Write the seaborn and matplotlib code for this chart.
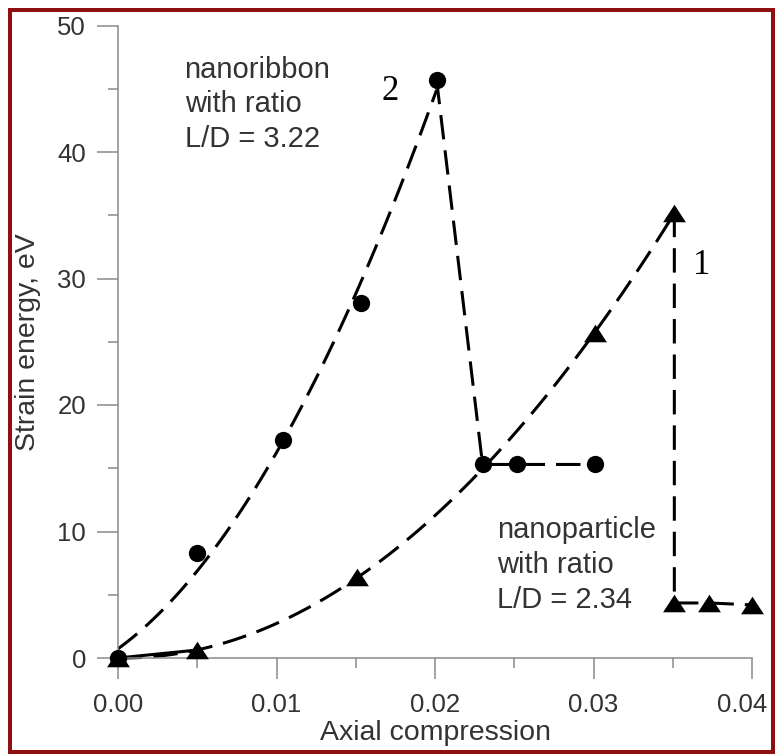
import numpy as np
import pandas as pd
import matplotlib
matplotlib.use("Agg")
import matplotlib.pyplot as plt
import matplotlib.transforms as mtransforms
from matplotlib.markers import MarkerStyle
from matplotlib.patches import Rectangle
from matplotlib.ticker import FixedLocator, MultipleLocator
import seaborn as sns

# Curve 2: nanoribbon, L/D = 3.22 (loading branch up to the peak, then collapse)
ribbon_x = [0.0, 0.005, 0.0104, 0.0153, 0.0201, 0.0230, 0.0252, 0.0301]
ribbon_y = [0.0, 8.3, 17.2, 28.1, 45.7, 15.3, 15.3, 15.3]
ribbon_peak = 4

# Curve 1: nanoparticle, L/D = 2.34
particle_x = [0.0, 0.005, 0.0151, 0.0301, 0.0351, 0.0351, 0.0373, 0.0400]
particle_y = [0.0, 0.63, 6.4, 25.7, 35.2, 4.35, 4.35, 4.2]
particle_peak = 4

x_ticks = [0.00, 0.01, 0.02, 0.03, 0.04]
x_tick_labels = ["0.00", "0.01", "0.02", "0.03", "0.04"]
y_ticks = [0, 10, 20, 30, 40, 50]
y_tick_labels = ["0", "10", "20", "30", "40", "50"]

ribbon_label = "nanoribbon\nwith ratio\nL/D = 3.22"
particle_label = "nanoparticle\nwith ratio\nL/D = 2.34"

sns.set_theme(style="white")
plt.rcParams["font.family"] = ["Liberation Sans", "DejaVu Sans"]

GRAY = "#8a8a8a"
TXT = "#333333"
LW = 2.2
DASH = (8, 3.6)

fig = plt.figure(figsize=(7.75, 7.55), dpi=100)
fig.patch.set_facecolor("white")
ax = fig.add_axes([118 / 775, 97 / 755, 634 / 775, 632.5 / 755])
ax.set_facecolor("white")

line_kws = dict(color="black", lw=LW, dashes=DASH, clip_on=False)

# smooth trend of the loading branches
sns.regplot(x=np.array(ribbon_x[:ribbon_peak + 1]), y=np.array(ribbon_y[:ribbon_peak + 1]),
            order=2, ci=None, scatter=False, truncate=True, ax=ax, line_kws=dict(line_kws))
sns.regplot(x=np.array(particle_x[:particle_peak + 1]), y=np.array(particle_y[:particle_peak + 1]),
            order=2, ci=None, scatter=False, truncate=True, ax=ax, line_kws=dict(line_kws))

# first particle step drawn solid
sns.lineplot(x=particle_x[:2], y=particle_y[:2], sort=False, estimator=None,
             color="black", lw=LW, ax=ax, clip_on=False)

# post-peak drops
sns.lineplot(x=ribbon_x[ribbon_peak:], y=ribbon_y[ribbon_peak:], sort=False, estimator=None,
             color="black", lw=LW, linestyle=(0, DASH), ax=ax, clip_on=False)
sns.lineplot(x=particle_x[particle_peak:], y=particle_y[particle_peak:], sort=False, estimator=None,
             color="black", lw=LW, linestyle=(0, DASH), ax=ax, clip_on=False)

# markers
tri = MarkerStyle([(-1.0, -0.77), (1.0, -0.77), (0.0, 0.77), (-1.0, -0.77)])
sns.scatterplot(x=ribbon_x, y=ribbon_y, marker="o", s=155, color="black",
                edgecolor="black", linewidth=0, ax=ax, clip_on=False, zorder=5)
sns.scatterplot(x=particle_x, y=particle_y, marker=tri, s=270, color="black",
                edgecolor="black", linewidth=0, ax=ax, clip_on=False, zorder=5)

ax.set_xlim(0, 0.04)
ax.set_ylim(0, 50)
ax.xaxis.set_major_locator(FixedLocator(x_ticks))
ax.set_xticklabels(x_tick_labels)
ax.yaxis.set_major_locator(FixedLocator(y_ticks))
ax.set_yticklabels(y_tick_labels)
ax.xaxis.set_minor_locator(MultipleLocator(0.005))
ax.yaxis.set_minor_locator(MultipleLocator(5))

ax.tick_params(which="both", direction="out", color=GRAY, width=1.1,
               bottom=True, left=True, top=False, right=False)
ax.tick_params(which="major", length=15)
ax.tick_params(which="minor", length=7)
ax.tick_params(axis="x", which="major", pad=10, labelsize=18.5, labelcolor=TXT)
ax.tick_params(axis="y", which="major", pad=8, labelsize=18.5, labelcolor=TXT)

sns.despine(ax=ax)
for side in ("left", "bottom"):
    ax.spines[side].set_color(GRAY)
    ax.spines[side].set_linewidth(1.1)

ax.set_xlabel("Axial compression", fontsize=20.5, color=TXT, labelpad=2)
ax.set_ylabel("Strain energy, eV", fontsize=20.5, color=TXT, labelpad=12)

ax.text(0.0042, 47.6, ribbon_label, fontsize=21, color=TXT, va="top", ha="left",
        linespacing=1.3)
ax.text(0.0239, 11.2, particle_label, fontsize=21, color=TXT, va="top", ha="left",
        linespacing=1.3)
ax.text(0.01716, 44.8, "2", fontsize=25, color="black", ha="center", va="center",
        family=["Liberation Serif", "DejaVu Serif"])
ax.text(0.0368, 31.0, "1", fontsize=25, color="black", ha="center", va="center",
        family=["Liberation Serif", "DejaVu Serif"])

# keep the last x label inside the frame
last = ax.get_xticklabels()[-1]
last.set_transform(last.get_transform()
                   + mtransforms.ScaledTranslation(-10 / 100, 0, fig.dpi_scale_trans))

# dark red frame around the figure
fig.patches.append(Rectangle((10 / 775, 3 / 755), 763 / 775, 742 / 755,
                             transform=fig.transFigure, fill=False,
                             edgecolor="#8e1010", linewidth=2.9, zorder=10))

fig.savefig("out.png", dpi=100, facecolor="white")
